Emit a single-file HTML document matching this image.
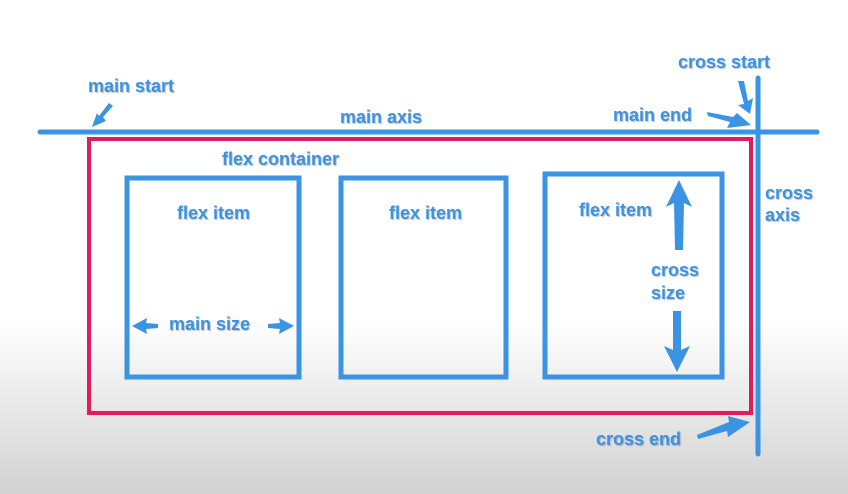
<!DOCTYPE html>
<html><head><style>
html,body{margin:0;padding:0}
body{width:848px;height:494px;overflow:hidden;background:linear-gradient(#fff 0,#fff 320px,#d2d2d2 494px);position:relative;font-family:"Liberation Sans",sans-serif}
.t{position:absolute;color:#3a93e3;font-weight:bold;font-size:18px;text-shadow:1px 1px 1px rgba(0,0,0,.25);line-height:22px;white-space:nowrap}
svg{position:absolute;left:0;top:0}
</style></head><body>
<svg width="848" height="494">
<g stroke-linecap="round" fill="none">
<line x1="40" y1="132" x2="817" y2="132" stroke="#3a93e3" stroke-width="5"/>
<line x1="758" y1="78" x2="758" y2="454" stroke="#3a93e3" stroke-width="5"/>
<rect x="89" y="139" width="662" height="274" stroke="#e01c5c" stroke-width="4"/>
<rect x="127" y="178" width="172" height="199" stroke="#3a93e3" stroke-width="5"/>
<rect x="341" y="178" width="165" height="199" stroke="#3a93e3" stroke-width="5"/>
<rect x="545" y="174" width="177" height="203" stroke="#3a93e3" stroke-width="5"/>
</g>
<g fill="#3a93e3">
<polygon points="109,103 113,106 103,117 106,121 92,127 97,113 99,116"/>
<polygon points="738,81 744,81 748,101 753,98 750,114 738,105 744,104"/>
<polygon points="707,112 708,116 730,122 727,128 751,125 737,113 733,117"/>
<polygon points="697,435 698,439 727,431 728,437 750,422 728,416 729,422"/>
<polygon points="132,326 147,318 146,323 158,324 158,328 146,329 147,334"/>
<polygon points="294,326 279,318 280,323 268,324 268,328 280,329 279,334"/>
<polygon points="679,180 666,207 674,203 675,250 683,250 684,203 692,207"/>
<polygon points="677,372 664,346 673,350 673,311 681,311 681,350 690,346"/>
</g>
</svg>
<div class="t" style="left:88px;top:75px">main start</div>
<div class="t" style="left:340px;top:106px">main axis</div>
<div class="t" style="left:613px;top:104px">main end</div>
<div class="t" style="left:678px;top:51px">cross start</div>
<div class="t" style="left:222px;top:148px">flex container</div>
<div class="t" style="left:765px;top:182px">cross<br>axis</div>
<div class="t" style="left:177px;top:202px">flex item</div>
<div class="t" style="left:389px;top:202px">flex item</div>
<div class="t" style="left:579px;top:199px">flex item</div>
<div class="t" style="left:651px;top:259px;line-height:23px">cross<br>size</div>
<div class="t" style="left:169px;top:313px">main size</div>
<div class="t" style="left:596px;top:428px">cross end</div>
</body></html>
